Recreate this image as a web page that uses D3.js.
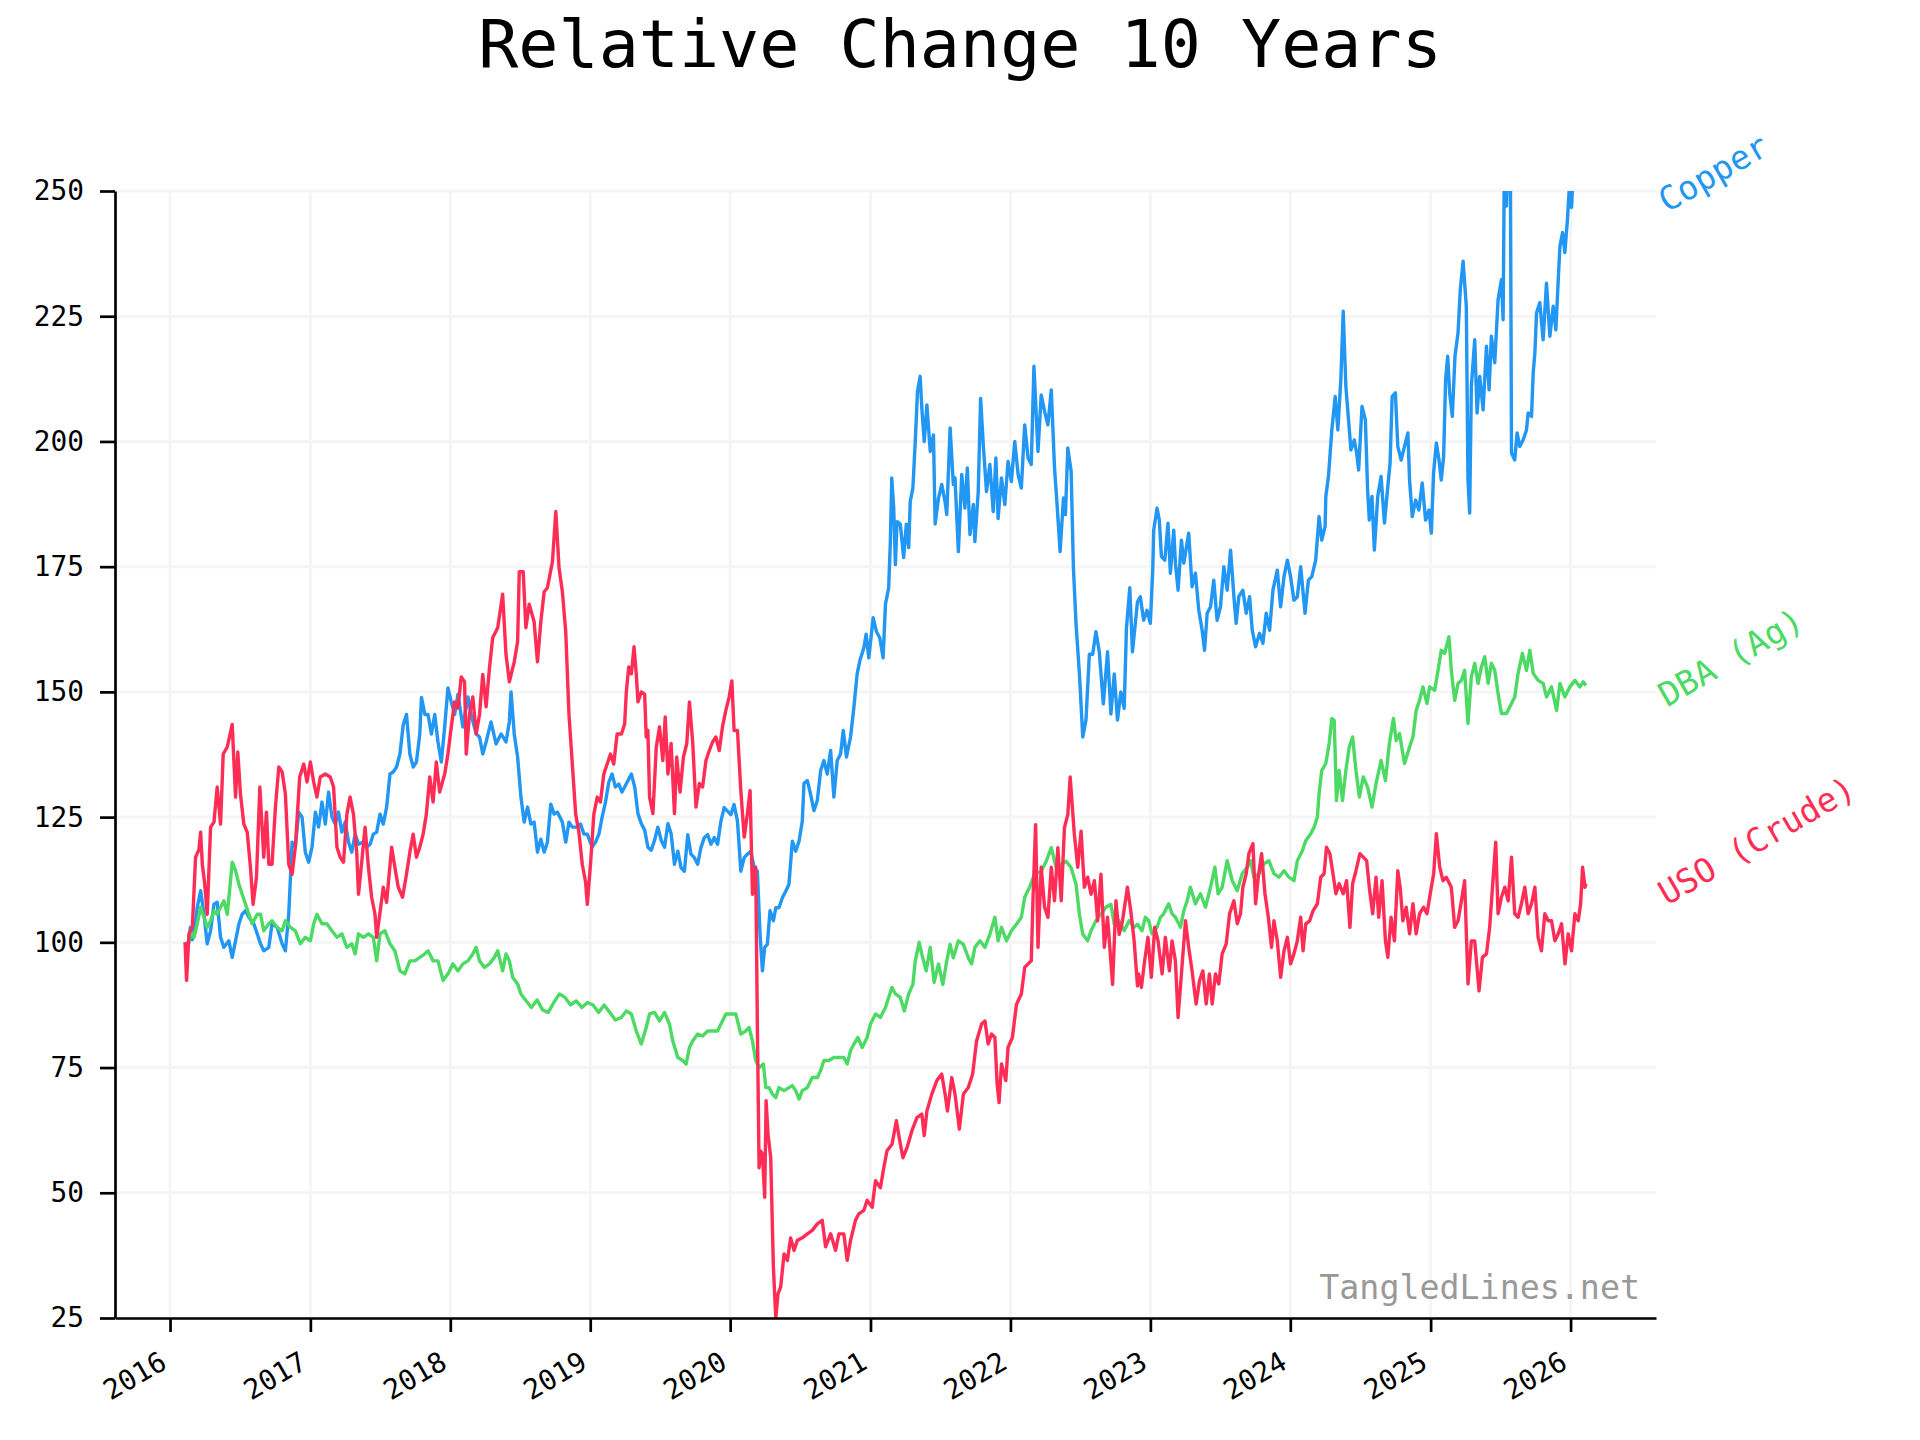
<!DOCTYPE html>
<html>
<head>
<meta charset="utf-8">
<script src="https://cdn.jsdelivr.net/npm/d3@7"></script>
<style>
  body { margin: 0; background: #fff; }
  text { font-family: "DejaVu Sans Mono", monospace; }
</style>
</head>
<body>
<div id="chart"></div>
<script>
// Relative change, 10 years (start = 100). Points are [decimal year, value]
var copper = [
  [2016.107,100],[2016.125,98.5],[2016.145,103],[2016.158,100.5],[2016.171,101.7],[2016.194,107],[2016.218,110.3],[2016.242,105.6],
  [2016.265,99.7],[2016.289,102.3],[2016.313,107.6],[2016.336,108],[2016.360,101],[2016.384,99],[2016.419,100.3],[2016.443,97],
  [2016.467,100.3],[2016.491,103.7],[2016.514,105.6],[2016.538,106.3],[2016.562,105],[2016.597,103.7],[2016.621,101.7],[2016.645,99.7],
  [2016.668,98.3],[2016.704,99],[2016.727,103.7],[2016.763,103],[2016.799,99.7],[2016.822,98.3],[2016.846,105.6],[2016.870,120],
  [2016.893,119],[2016.917,126],[2016.941,125],[2016.964,118],[2016.988,116],[2017.012,119],[2017.036,126],[2017.059,123],
  [2017.083,128],[2017.107,123.6],[2017.130,130],[2017.154,125],[2017.178,123.6],[2017.201,126],[2017.225,122],[2017.249,124],
  [2017.273,120],[2017.296,118],[2017.320,121.6],[2017.344,119.6],[2017.379,120],[2017.403,119],[2017.427,119.6],[2017.450,121.6],
  [2017.474,122],[2017.498,125.6],[2017.521,123.6],[2017.545,127],[2017.569,133.6],[2017.592,134],[2017.616,135],[2017.640,137.6],
  [2017.664,143.5],[2017.687,145.5],[2017.711,137.6],[2017.735,135],[2017.758,136],[2017.782,141.6],[2017.794,148.9],[2017.818,145.5],
  [2017.841,145.5],[2017.865,141.6],[2017.889,145.5],[2017.912,140],[2017.936,136],[2017.960,143],[2017.983,150.8],[2018.007,148],
  [2018.031,145.5],[2018.055,149.5],[2018.090,143],[2018.126,149],[2018.149,145.5],[2018.185,141.6],[2018.209,141],[2018.232,137.6],
  [2018.256,140],[2018.291,144],[2018.327,139.6],[2018.363,141.6],[2018.398,140],[2018.422,144],[2018.434,150],[2018.457,141.6],
  [2018.481,137],[2018.505,129],[2018.528,124],[2018.552,127],[2018.576,123.6],[2018.599,124],[2018.623,118],[2018.647,120.6],
  [2018.671,118],[2018.694,120],[2018.718,127.6],[2018.742,125.6],[2018.765,126],[2018.801,124],[2018.825,120],[2018.848,124],
  [2018.872,123],[2018.896,123],[2018.931,123.6],[2018.955,121.6],[2018.979,121.6],[2019.014,119],[2019.038,120],[2019.062,121.6],
  [2019.085,125],[2019.109,128],[2019.133,132],[2019.156,133.6],[2019.180,131],[2019.204,131.6],[2019.227,130],[2019.246,131],
  [2019.270,132.3],[2019.294,133.6],[2019.318,131],[2019.341,125.7],[2019.365,123.7],[2019.389,122.4],[2019.412,119],[2019.436,118.4],
  [2019.460,120.4],[2019.483,123],[2019.507,120.4],[2019.531,119],[2019.555,123.7],[2019.578,121.7],[2019.602,115.6],[2019.626,118.2],
  [2019.649,114.9],[2019.673,114.2],[2019.697,121.5],[2019.720,117.6],[2019.744,116.9],[2019.768,115.6],[2019.791,118.9],[2019.815,120.9],
  [2019.839,121.5],[2019.863,119.6],[2019.886,120.9],[2019.910,119.6],[2019.934,124.2],[2019.957,126.9],[2019.981,126.2],[2020.005,125.5],
  [2020.028,127.5],[2020.052,124.2],[2020.076,114.2],[2020.100,116.9],[2020.123,117.6],[2020.147,118.2],[2020.171,114.9],[2020.194,114.2],
  [2020.213,101.6],[2020.230,94.3],[2020.246,99],[2020.265,99.6],[2020.284,106.3],[2020.308,104.3],[2020.325,106.9],[2020.348,106.9],
  [2020.372,108.9],[2020.396,110.2],[2020.419,111.6],[2020.443,120.2],[2020.467,118.2],[2020.491,120.2],[2020.514,124.2],[2020.526,131.7],
  [2020.550,132.3],[2020.573,129.6],[2020.597,126.3],[2020.621,128.3],[2020.645,134.3],[2020.668,136.3],[2020.692,133.6],[2020.716,138.3],
  [2020.739,129],[2020.763,136.3],[2020.787,137.6],[2020.806,142.3],[2020.829,137],[2020.858,141],[2020.882,147],[2020.905,153.6],
  [2020.924,156.2],[2020.953,158.8],[2020.969,161.5],[2020.988,156.8],[2021.019,164.8],[2021.043,162],[2021.066,160.8],[2021.090,156.8],
  [2021.107,167.5],[2021.130,170.8],[2021.142,180],[2021.152,192.7],[2021.166,186.7],[2021.178,175.4],[2021.190,184],[2021.213,183.5],
  [2021.237,176.8],[2021.256,183.5],[2021.273,178.8],[2021.284,188],[2021.303,190.7],[2021.320,200],[2021.336,210],[2021.355,213],
  [2021.367,206.6],[2021.384,200],[2021.403,207.3],[2021.427,198],[2021.450,201.3],[2021.462,183.5],[2021.486,188.7],[2021.509,191.4],
  [2021.533,188],[2021.545,185.4],[2021.569,202.7],[2021.592,191.4],[2021.604,192.7],[2021.628,178],[2021.652,193.4],[2021.675,186.7],
  [2021.692,194.7],[2021.711,181.4],[2021.735,187.4],[2021.746,180],[2021.770,190],[2021.787,208.6],[2021.806,199.3],[2021.829,190],
  [2021.853,195.4],[2021.877,186],[2021.896,196.7],[2021.912,184.6],[2021.936,192.7],[2021.960,187.4],[2021.983,196],[2022.007,192],
  [2022.031,200],[2022.055,193.4],[2022.078,190.7],[2022.102,203.3],[2022.126,196.7],[2022.149,195.4],[2022.168,215],[2022.197,198],
  [2022.220,209.3],[2022.244,206],[2022.268,203.3],[2022.292,210.3],[2022.315,194.7],[2022.332,188],[2022.355,178],[2022.379,188.7],
  [2022.393,185.4],[2022.410,198.7],[2022.434,194],[2022.450,174.8],[2022.469,163.5],[2022.493,153.6],[2022.517,141],[2022.540,144.4],
  [2022.564,157.5],[2022.588,157.5],[2022.611,162],[2022.635,158],[2022.664,147.6],[2022.694,158],[2022.718,145.6],[2022.742,153.6],
  [2022.765,144.4],[2022.789,150],[2022.813,146.7],[2022.829,162.7],[2022.853,170.8],[2022.872,158],[2022.908,168],[2022.928,169],
  [2022.952,164.3],[2022.976,166.3],[2023.000,163.7],[2023.017,174.3],[2023.024,182.3],[2023.048,186.7],[2023.064,184.3],[2023.079,177],
  [2023.103,176.3],[2023.126,183.7],[2023.143,173.7],[2023.167,182.3],[2023.179,175.7],[2023.198,170.3],[2023.222,180.3],[2023.239,175.7],
  [2023.274,181.7],[2023.298,171],[2023.322,173.7],[2023.346,166.3],[2023.370,162.3],[2023.387,158.3],[2023.406,165.7],[2023.430,167],
  [2023.453,172.3],[2023.477,164.3],[2023.501,167],[2023.525,175],[2023.549,170.3],[2023.573,178.3],[2023.597,169],[2023.613,163.7],
  [2023.632,169],[2023.661,170.3],[2023.685,165.7],[2023.709,169],[2023.728,162.3],[2023.752,159],[2023.780,161.7],[2023.804,159.7],
  [2023.828,165.7],[2023.852,162.3],[2023.876,170.3],[2023.907,174.3],[2023.931,167],[2023.955,173],[2023.979,176.3],[2024.002,173],
  [2024.026,168.3],[2024.050,169],[2024.074,175],[2024.105,165.7],[2024.129,172.3],[2024.153,173],[2024.181,176.3],[2024.205,185],
  [2024.224,180.3],[2024.248,183],[2024.253,189],[2024.272,193],[2024.296,202.3],[2024.320,209],[2024.339,202.3],[2024.360,212.3],
  [2024.377,226],[2024.396,211],[2024.415,204.3],[2024.432,198.3],[2024.456,200.3],[2024.473,197.7],[2024.487,194.3],[2024.511,207],
  [2024.535,204.3],[2024.551,190.3],[2024.563,184.3],[2024.582,189],[2024.599,178.3],[2024.623,189],[2024.647,193],[2024.671,183.7],
  [2024.695,191],[2024.711,195.7],[2024.726,209],[2024.749,209.7],[2024.766,199],[2024.790,196.3],[2024.814,199],[2024.838,201.7],
  [2024.850,192.3],[2024.869,185],[2024.893,188.3],[2024.916,186.3],[2024.940,191.7],[2024.964,184.3],[2024.988,186.3],[2025.005,181.7],
  [2025.021,193.7],[2025.041,199.7],[2025.060,196.3],[2025.076,192.3],[2025.093,197],[2025.107,212.3],[2025.122,217],[2025.136,209.7],
  [2025.155,205],[2025.174,217],[2025.196,221.7],[2025.212,230.3],[2025.232,236],[2025.255,227],[2025.267,192.3],[2025.279,185.7],
  [2025.291,211],[2025.315,220.3],[2025.332,205.7],[2025.351,213],[2025.375,206.3],[2025.399,219],[2025.418,210.3],[2025.434,221],
  [2025.458,215.7],[2025.482,228.3],[2025.506,232.3],[2025.518,224.3],[2025.527,256],[2025.542,247],[2025.555,259],[2025.570,255],
  [2025.578,197.7],[2025.601,196.3],[2025.618,201.7],[2025.637,199],[2025.661,200.3],[2025.685,202.3],[2025.697,205.7],[2025.721,205],
  [2025.733,213.7],[2025.745,217.7],[2025.757,225.7],[2025.780,227.7],[2025.804,220.3],[2025.828,231.6],[2025.852,221],[2025.876,227],
  [2025.895,222.3],[2025.912,232.3],[2025.924,239],[2025.943,241.7],[2025.959,237.7],[2025.976,243.7],[2025.990,250],[2026.007,246.7],
  [2026.019,254],[2026.050,262],[2026.080,266],[2026.110,258]
];

var dba = [
  [2016.107,100],[2016.130,99.5],[2016.150,102],[2016.171,101],[2016.194,103.7],[2016.218,107],[2016.242,105],[2016.265,103],
  [2016.289,104.3],[2016.313,106.3],[2016.336,105.6],[2016.360,107],[2016.384,108.3],[2016.408,105.6],[2016.431,112.3],[2016.443,116],
  [2016.467,114.3],[2016.491,111.6],[2016.514,109.6],[2016.538,107.6],[2016.562,105.6],[2016.585,103.7],[2016.621,105.6],[2016.645,105.6],
  [2016.668,102.3],[2016.704,103.7],[2016.727,104.3],[2016.763,103],[2016.799,102.3],[2016.822,104.3],[2016.858,103],[2016.893,102.3],
  [2016.929,99.7],[2016.964,101],[2017.000,100.3],[2017.024,103.7],[2017.047,105.6],[2017.083,103.7],[2017.118,103.7],[2017.154,102.3],
  [2017.190,101],[2017.225,101.7],[2017.261,99],[2017.296,99.7],[2017.320,97.7],[2017.344,101.7],[2017.379,101],[2017.415,101.7],
  [2017.450,101],[2017.474,96.3],[2017.498,101.7],[2017.533,102.3],[2017.569,99.7],[2017.604,98.3],[2017.640,94.3],[2017.675,93.7],
  [2017.711,96.3],[2017.746,96.3],[2017.782,97],[2017.818,97.7],[2017.841,98.3],[2017.877,96.3],[2017.912,96.3],[2017.948,92.4],
  [2017.983,93.7],[2018.019,95.7],[2018.055,94.3],[2018.090,95.7],[2018.126,96.3],[2018.161,97.7],[2018.185,99],[2018.209,96.3],
  [2018.244,95],[2018.280,95.7],[2018.315,97],[2018.339,98.3],[2018.374,94.3],[2018.398,97.7],[2018.422,96.3],[2018.446,93],
  [2018.481,91.7],[2018.505,89.7],[2018.540,88.4],[2018.580,87],[2018.620,88.5],[2018.660,86.5],[2018.700,86],[2018.740,88],
  [2018.780,89.7],[2018.820,89],[2018.860,87.5],[2018.900,88.3],[2018.940,87],[2018.980,88],[2019.020,87.5],[2019.060,86],
  [2019.100,87.5],[2019.140,86],[2019.180,84.5],[2019.222,85],[2019.258,86.3],[2019.294,85.7],[2019.329,82.3],[2019.365,79.7],
  [2019.400,83],[2019.424,85.7],[2019.460,86],[2019.495,84.3],[2019.531,86],[2019.566,83.7],[2019.590,80.3],[2019.626,77],
  [2019.661,76.4],[2019.685,75.7],[2019.709,79],[2019.732,80.3],[2019.768,81.7],[2019.803,81.3],[2019.839,82.3],[2019.874,82.3],
  [2019.910,82.3],[2019.945,84.3],[2019.969,85.7],[2020.005,85.7],[2020.040,85.7],[2020.076,81.7],[2020.111,82.3],[2020.135,83],
  [2020.159,80.3],[2020.182,76.4],[2020.206,75],[2020.237,75.7],[2020.254,71],[2020.277,71],[2020.301,69.7],[2020.325,69],
  [2020.348,71],[2020.384,70.4],[2020.419,71],[2020.443,71.4],[2020.467,70.4],[2020.491,68.7],[2020.514,70.4],[2020.550,71],
  [2020.585,73],[2020.621,73],[2020.645,74.4],[2020.668,76.4],[2020.704,76.4],[2020.739,77],[2020.775,77],[2020.810,77],
  [2020.834,75.7],[2020.858,78.4],[2020.882,79.7],[2020.910,81],[2020.941,79],[2020.976,81],[2021.000,83.7],[2021.036,85.7],
  [2021.071,85],[2021.107,87],[2021.130,89],[2021.154,91],[2021.178,89.7],[2021.213,89],[2021.242,86.3],[2021.273,89.7],
  [2021.303,91.6],[2021.320,96.3],[2021.348,100],[2021.367,97.6],[2021.398,94.3],[2021.427,99],[2021.455,92],[2021.486,95.7],
  [2021.517,91.6],[2021.545,96.3],[2021.569,99.6],[2021.592,96.9],[2021.628,100.3],[2021.664,99.6],[2021.699,96.9],[2021.723,95.7],
  [2021.746,99],[2021.782,100.3],[2021.818,99],[2021.853,101.6],[2021.889,105],[2021.912,100.3],[2021.936,103],[2021.972,100.3],
  [2022.007,102.3],[2022.043,103.6],[2022.078,105],[2022.102,109],[2022.137,111],[2022.173,113.6],[2022.220,114.2],[2022.256,116.2],
  [2022.292,118.9],[2022.327,114.9],[2022.363,115.6],[2022.398,116.2],[2022.434,114.9],[2022.469,111.6],[2022.493,105.6],[2022.517,101.6],
  [2022.552,100.3],[2022.576,102.3],[2022.611,104.3],[2022.647,105.6],[2022.682,107],[2022.718,107.6],[2022.742,103.6],[2022.777,104.3],
  [2022.813,102.3],[2022.848,104.3],[2022.884,103],[2022.908,103.6],[2022.940,102.3],[2022.964,105],[2022.988,104.3],[2023.012,101.7],
  [2023.048,103],[2023.072,105],[2023.095,105.7],[2023.131,107.7],[2023.155,105.7],[2023.179,105],[2023.215,103],[2023.239,106.3],
  [2023.263,108.3],[2023.286,111],[2023.322,107.7],[2023.358,109.7],[2023.394,107],[2023.430,111],[2023.461,115],[2023.484,109.7],
  [2023.513,111],[2023.549,116.3],[2023.585,112.3],[2023.621,110.3],[2023.656,113.7],[2023.692,115],[2023.716,116.3],[2023.740,113],
  [2023.776,113.7],[2023.811,115.7],[2023.847,116.3],[2023.883,113.7],[2023.919,113],[2023.955,114.3],[2023.990,113],[2024.026,112.3],
  [2024.050,116.3],[2024.086,118.3],[2024.110,120.3],[2024.146,121.7],[2024.170,123],[2024.193,125],[2024.205,129.7],[2024.224,134.3],
  [2024.253,135.7],[2024.277,139.7],[2024.296,144.7],[2024.313,144.3],[2024.329,128.3],[2024.348,134.3],[2024.372,128.3],[2024.396,134.3],
  [2024.420,139],[2024.444,141],[2024.468,134.3],[2024.492,129],[2024.520,133],[2024.551,131],[2024.582,127],[2024.611,131.7],
  [2024.647,136.3],[2024.678,132.3],[2024.706,139.7],[2024.735,144.7],[2024.754,140.3],[2024.778,141.7],[2024.814,135.7],[2024.850,139],
  [2024.874,141],[2024.897,146.3],[2024.921,148.3],[2024.945,151],[2024.974,147.7],[2024.993,151],[2025.029,150.3],[2025.053,154.3],
  [2025.076,158.3],[2025.100,157.7],[2025.131,161],[2025.148,154.3],[2025.172,148.3],[2025.196,151.7],[2025.220,152.3],[2025.243,154.3],
  [2025.267,143.7],[2025.291,153],[2025.315,155.7],[2025.339,151.7],[2025.363,155],[2025.387,157],[2025.411,151.7],[2025.434,155.7],
  [2025.458,154.3],[2025.482,149.7],[2025.506,145.7],[2025.542,145.7],[2025.578,147.7],[2025.601,149],[2025.625,153.7],[2025.656,157.7],
  [2025.685,154.3],[2025.709,158.3],[2025.733,153.7],[2025.768,152.3],[2025.804,151.7],[2025.828,149],[2025.864,151],[2025.900,146.3],
  [2025.924,151.7],[2025.959,149],[2025.995,151],[2026.031,152.3],[2026.067,151],[2026.091,152],[2026.110,151.3]
];

var uso = [
  [2016.107,100],[2016.118,92.4],[2016.135,101.7],[2016.159,103],[2016.182,117],[2016.206,118.5],[2016.218,122],[2016.230,115.6],
  [2016.246,112],[2016.265,105.6],[2016.289,123],[2016.313,124],[2016.336,131],[2016.360,123.6],[2016.379,137.6],[2016.408,139],
  [2016.443,143.5],[2016.467,129],[2016.483,138],[2016.502,129.6],[2016.526,123.6],[2016.550,122],[2016.573,115],[2016.592,107.6],
  [2016.616,113],[2016.640,131],[2016.668,117],[2016.687,126],[2016.704,115.6],[2016.727,115.6],[2016.751,127],[2016.775,135],
  [2016.799,134],[2016.822,129.6],[2016.846,115.6],[2016.870,113.6],[2016.893,119],[2016.924,133],[2016.953,135.6],[2016.976,132],
  [2017.000,136],[2017.024,132],[2017.047,129],[2017.071,133],[2017.107,133.6],[2017.142,133],[2017.166,131],[2017.190,119],
  [2017.213,117],[2017.237,116],[2017.261,125.6],[2017.284,129],[2017.308,125.6],[2017.332,117.6],[2017.344,109.6],[2017.367,116],
  [2017.391,123],[2017.415,115],[2017.438,109],[2017.462,105.6],[2017.474,101],[2017.498,106],[2017.521,111],[2017.545,108],
  [2017.581,119],[2017.604,115],[2017.628,111],[2017.659,109],[2017.687,113.6],[2017.711,118],[2017.735,121.6],[2017.758,117],
  [2017.782,119],[2017.806,121.6],[2017.829,125.6],[2017.853,133],[2017.877,128],[2017.900,136],[2017.924,130],[2017.960,133.6],
  [2017.983,137.6],[2018.007,143],[2018.031,148],[2018.055,146.8],[2018.078,153],[2018.102,152],[2018.114,137.6],[2018.137,145.5],
  [2018.161,149],[2018.185,141.6],[2018.209,145.5],[2018.232,153.5],[2018.256,147],[2018.280,154.8],[2018.303,160.8],[2018.339,162.8],
  [2018.374,169.5],[2018.398,157.5],[2018.422,152],[2018.457,156],[2018.481,160],[2018.493,174],[2018.521,174],[2018.540,162.8],
  [2018.564,167.5],[2018.599,164],[2018.623,156],[2018.647,164],[2018.671,170],[2018.694,170.8],[2018.730,176],[2018.754,186],
  [2018.777,174.8],[2018.801,170],[2018.825,162],[2018.848,145.5],[2018.872,135.6],[2018.896,125.6],[2018.919,122],[2018.943,115.6],
  [2018.967,112],[2018.979,107.6],[2019.002,115.6],[2019.026,125.6],[2019.050,129],[2019.073,128],[2019.097,133.6],[2019.121,135.6],
  [2019.145,137.6],[2019.168,135.6],[2019.192,141.6],[2019.223,141.6],[2019.246,143.6],[2019.258,150],[2019.275,155],[2019.294,153.6],
  [2019.313,159],[2019.329,153.6],[2019.341,148],[2019.365,150],[2019.389,149.5],[2019.400,141],[2019.412,142.3],[2019.424,129],
  [2019.448,125.7],[2019.472,139],[2019.495,143],[2019.519,136.3],[2019.536,145],[2019.555,133.6],[2019.578,139.7],[2019.602,125.7],
  [2019.618,137],[2019.642,130],[2019.666,137],[2019.690,139.7],[2019.709,148],[2019.732,140],[2019.756,127],[2019.780,131.7],
  [2019.803,131],[2019.827,136.3],[2019.851,138.3],[2019.874,140],[2019.898,141],[2019.922,138.3],[2019.945,143],[2019.969,146.3],
  [2019.993,149],[2020.012,152.2],[2020.028,142.3],[2020.052,142.3],[2020.076,130.3],[2020.100,121],[2020.123,125.7],[2020.142,130.3],
  [2020.159,109.6],[2020.182,115],[2020.194,83],[2020.206,55],[2020.218,58.3],[2020.230,57.7],[2020.246,49.1],[2020.256,68.4],
  [2020.270,61.7],[2020.289,57],[2020.308,35.2],[2020.325,25],[2020.341,29.8],[2020.360,31.2],[2020.384,37.8],[2020.408,36.5],
  [2020.431,41],[2020.455,38.5],[2020.479,40.5],[2020.514,41],[2020.550,41.8],[2020.585,42.5],[2020.621,43.8],[2020.656,44.5],
  [2020.680,39.2],[2020.716,41.8],[2020.751,38.5],[2020.775,41.8],[2020.810,41.8],[2020.834,36.5],[2020.858,40.5],[2020.893,44.5],
  [2020.917,45.8],[2020.953,46.5],[2020.976,48.5],[2021.012,47.1],[2021.036,52.4],[2021.071,51],[2021.095,55],[2021.118,58.4],
  [2021.154,59.7],[2021.185,64.4],[2021.209,60.4],[2021.232,57],[2021.261,59],[2021.296,62.4],[2021.332,65],[2021.367,65.7],
  [2021.384,61.4],[2021.403,66.3],[2021.438,69.7],[2021.474,72.4],[2021.509,73.7],[2021.533,69.7],[2021.550,66.3],[2021.581,73],
  [2021.604,69.7],[2021.635,62.7],[2021.664,69.7],[2021.699,71],[2021.730,73.7],[2021.758,80.3],[2021.794,83.7],[2021.818,84.3],
  [2021.841,79.7],[2021.865,81.7],[2021.889,81],[2021.905,71.7],[2021.919,68],[2021.936,75.7],[2021.967,72.4],[2021.983,79],
  [2022.014,81],[2022.043,87.6],[2022.078,89.7],[2022.102,95],[2022.126,95.7],[2022.149,96.3],[2022.161,108.3],[2022.180,123.5],
  [2022.197,99],[2022.220,115],[2022.244,107],[2022.268,105],[2022.292,115],[2022.315,108.3],[2022.339,118.9],[2022.363,108.3],
  [2022.386,122.9],[2022.410,125.5],[2022.427,133],[2022.457,121.5],[2022.481,115],[2022.505,122.2],[2022.528,111],[2022.552,113],
  [2022.576,109.6],[2022.600,112.3],[2022.623,104.3],[2022.647,113.6],[2022.671,99],[2022.694,105],[2022.730,91.6],[2022.754,108.3],
  [2022.777,101.6],[2022.801,104.3],[2022.836,111],[2022.860,106.3],[2022.884,100.3],[2022.908,91.3],[2022.916,93.7],[2022.936,91],
  [2022.959,96.3],[2022.983,101],[2023.007,93],[2023.031,103],[2023.055,100.3],[2023.084,93.7],[2023.107,101],[2023.136,94.3],
  [2023.155,100.3],[2023.179,96.3],[2023.198,85],[2023.222,93.7],[2023.251,104.3],[2023.274,99],[2023.298,94.3],[2023.327,87.7],
  [2023.351,92.3],[2023.375,94.3],[2023.399,87.7],[2023.422,93.7],[2023.442,87.7],[2023.465,93.7],[2023.489,91.7],[2023.513,97.7],
  [2023.542,99.7],[2023.566,105.7],[2023.597,108.3],[2023.621,103.7],[2023.644,105.7],[2023.661,111],[2023.685,113.7],[2023.704,117.7],
  [2023.733,119.7],[2023.752,107.7],[2023.771,113],[2023.795,117.7],[2023.819,109.7],[2023.842,105.2],[2023.866,99],[2023.883,104.3],
  [2023.907,100.3],[2023.931,93],[2023.955,98.3],[2023.979,101],[2024.002,95.7],[2024.026,97.7],[2024.050,100.3],[2024.074,105],
  [2024.091,98.3],[2024.110,103.7],[2024.138,104.3],[2024.162,106.3],[2024.193,107.7],[2024.217,113],[2024.241,113.7],[2024.258,119],
  [2024.282,117.7],[2024.301,114.3],[2024.325,109.7],[2024.348,111.7],[2024.377,109.7],[2024.401,112.3],[2024.425,103],[2024.444,111.7],
  [2024.468,114.3],[2024.496,117.7],[2024.520,117],[2024.544,116.3],[2024.563,111],[2024.587,105.7],[2024.611,113],[2024.630,105],
  [2024.654,112.3],[2024.678,100.3],[2024.695,97],[2024.718,105],[2024.742,100.3],[2024.766,114.3],[2024.783,111],[2024.802,104.3],
  [2024.826,107],[2024.850,101.7],[2024.874,107.7],[2024.897,101.7],[2024.921,105.7],[2024.950,107],[2024.974,105.7],[2025.005,111],
  [2025.022,113.7],[2025.041,121.7],[2025.065,115],[2025.088,112.3],[2025.112,113],[2025.148,111],[2025.172,103],[2025.196,104.3],
  [2025.220,108.3],[2025.243,112.3],[2025.267,91.7],[2025.291,100.3],[2025.315,100.3],[2025.346,90.3],[2025.370,97],[2025.399,97.7],
  [2025.422,103],[2025.442,111],[2025.465,120],[2025.482,105.7],[2025.506,109],[2025.530,111],[2025.554,108.3],[2025.578,117],
  [2025.601,105.7],[2025.625,105],[2025.649,107.7],[2025.673,111],[2025.697,105.7],[2025.721,107.7],[2025.745,111],[2025.768,101],
  [2025.792,98.3],[2025.816,105.7],[2025.840,104.3],[2025.864,104.3],[2025.888,100.3],[2025.912,101.7],[2025.936,103.7],[2025.960,95.7],
  [2025.983,101.7],[2026.007,98.3],[2026.031,105.7],[2026.055,104.3],[2026.072,107.7],[2026.086,115],[2026.103,111],[2026.110,111.7]
];

var seriesNames = ["Copper", "DBA (Ag)", "USO (Crude)"];
var seriesColors = ["#2196F3", "#4CD964", "#FF2D55"];
var seriesData = [copper, dba, uso];
var yTicks = [25, 50, 75, 100, 125, 150, 175, 200, 225, 250];
var xTickYears = [2016, 2017, 2018, 2019, 2020, 2021, 2022, 2023, 2024, 2025, 2026];

// Boiler plate svg setup
var svgWidth = 1920;
var svgHeight = 1440;

var margin = {
    top: 191,
    right: 264,
    bottom: 122,
    left: 115
};

var width = svgWidth - margin.left - margin.right;
var height = svgHeight - margin.top - margin.bottom;

var svg = d3.select("#chart")
    .append("svg")
    .attr("width", svgWidth)
    .attr("height", svgHeight)
    .style("display", "block");

svg.append("rect")
    .attr("width", svgWidth)
    .attr("height", svgHeight)
    .attr("fill", "#fff");

var chartGroup = svg.append("g")
    .attr("transform", `translate(${margin.left}, ${margin.top})`);

// decimal year -> Date
function toDate(t) {
    var y = Math.floor(t);
    var start = new Date(y, 0, 1);
    var end = new Date(y + 1, 0, 1);
    return new Date(+start + (t - y) * (end - start));
}

// x domain: data extent plus 5% padding each side
var allT = [].concat(copper, dba, uso).map(d => d[0]);
var t0 = +toDate(d3.min(allT));
var t1 = +toDate(d3.max(allT));
var pad = (t1 - t0) * 0.05;

var xScale = d3.scaleTime()
    .domain([new Date(t0 - pad), new Date(t1 + pad)])
    .range([0, width]);

var yScale = d3.scaleLinear()
    .domain([25, 250])
    .range([height, 0]);

// grid
var xTickDates = xTickYears.map(y => new Date(y, 0, 1));

chartGroup.append("g").selectAll("line")
    .data(xTickDates)
    .enter()
    .append("line")
    .attr("x1", d => xScale(d))
    .attr("x2", d => xScale(d))
    .attr("y1", 0)
    .attr("y2", height)
    .attr("stroke", "#f5f5f5")
    .attr("stroke-width", 3);

chartGroup.append("g").selectAll("line")
    .data(yTicks)
    .enter()
    .append("line")
    .attr("x1", 0)
    .attr("x2", width)
    .attr("y1", d => yScale(d))
    .attr("y2", d => yScale(d))
    .attr("stroke", "#f5f5f5")
    .attr("stroke-width", 3);

// clip lines to the plot area
svg.append("defs").append("clipPath")
    .attr("id", "plotClip")
    .append("rect")
    .attr("width", width)
    .attr("height", height);

var line = d3.line()
    .x(d => xScale(toDate(d[0])))
    .y(d => yScale(d[1]));

var linesGroup = chartGroup.append("g")
    .attr("clip-path", "url(#plotClip)");

seriesData.forEach(function(data, i) {
    linesGroup.append("path")
        .datum(data)
        .attr("d", line)
        .attr("fill", "none")
        .attr("stroke", seriesColors[i])
        .attr("stroke-width", 3.4)
        .attr("stroke-linejoin", "round");
});

// axes
var bottomAxis = d3.axisBottom(xScale)
    .tickValues(xTickDates)
    .tickFormat(d3.timeFormat("%Y"))
    .tickSize(14)
    .tickSizeOuter(0);

var leftAxis = d3.axisLeft(yScale)
    .tickValues(yTicks)
    .tickSize(15)
    .tickPadding(16)
    .tickSizeOuter(0);

var xAxis = chartGroup.append("g")
    .attr("transform", `translate(0, ${height})`)
    .call(bottomAxis);

xAxis.selectAll("text")
    .attr("x", null)
    .attr("y", null)
    .attr("dy", "0.72em")
    .attr("text-anchor", "end")
    .attr("transform", "translate(-12, 32) rotate(-30)");

var yAxis = chartGroup.append("g")
    .call(leftAxis);

[xAxis, yAxis].forEach(function(ax) {
    ax.selectAll("path, line")
        .attr("stroke", "#000")
        .attr("stroke-width", 2.7);
    ax.selectAll("text")
        .attr("fill", "#000")
        .attr("font-family", "DejaVu Sans Mono, monospace")
        .attr("font-size", "27.8px");
});

// series labels at the right end
seriesData.forEach(function(data, i) {
    var last = data[data.length - 1][1];
    var ly = yScale(Math.min(last, 250)) + 22;
    chartGroup.append("text")
        .attr("transform", `translate(${width + 11}, ${ly}) rotate(-30)`)
        .attr("fill", seriesColors[i])
        .attr("font-size", "33.3px")
        .text(seriesNames[i]);
});

// title
svg.append("text")
    .attr("x", svgWidth / 2)
    .attr("y", 67)
    .attr("text-anchor", "middle")
    .attr("font-size", "66.7px")
    .attr("fill", "#000")
    .text("Relative Change 10 Years");

// watermark
svg.append("text")
    .attr("x", 1640)
    .attr("y", 1299)
    .attr("text-anchor", "end")
    .attr("font-size", "33.3px")
    .attr("fill", "#999")
    .text("TangledLines.net");
</script>
</body>
</html>
